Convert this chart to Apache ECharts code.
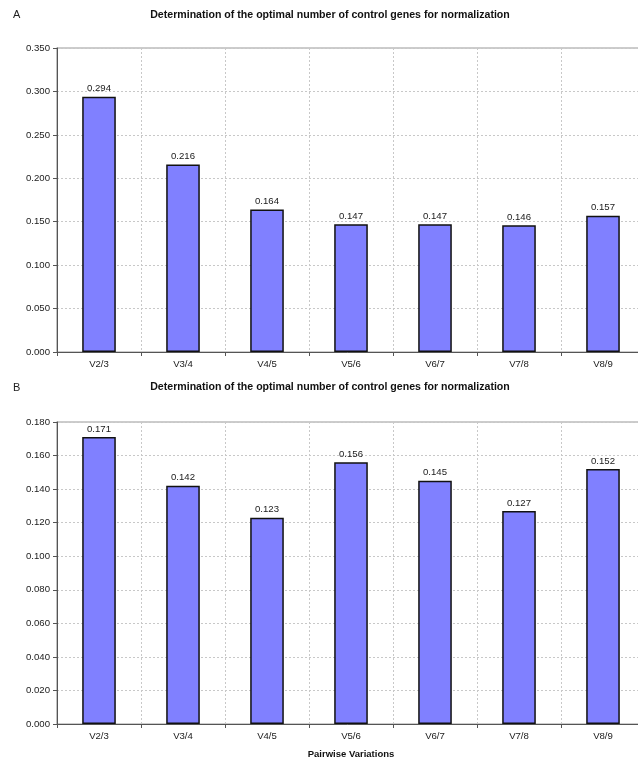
<!DOCTYPE html>
<html>
<head>
<meta charset="utf-8">
<script src="https://cdn.jsdelivr.net/npm/echarts@6/dist/echarts.min.js"></script>
<style>
  html, body { margin: 0; padding: 0; background: #fff; }
  #chart { width: 638px; height: 759px; }
</style>
</head>
<body>
<div id="chart"></div>
<script>
// Pairwise variation categories (Vn/n+1)
const categories = ['V2/3', 'V3/4', 'V4/5', 'V5/6', 'V6/7', 'V7/8', 'V8/9'];
// Panel A pairwise variation values
const valuesA = [0.294, 0.216, 0.164, 0.147, 0.147, 0.146, 0.157];
// Panel B pairwise variation values
const valuesB = [0.171, 0.142, 0.123, 0.156, 0.145, 0.127, 0.152];

const titleText = 'Determination of the optimal number of control genes for normalization';
const FONT = '"Liberation Sans", Arial, sans-serif';
const LABEL_SIZE = 9.6;

function xAxisFor(gridIndex, showName) {
  return {
    type: 'category',
    gridIndex: gridIndex,
    data: categories,
    boundaryGap: true,
    name: showName ? 'Pairwise Variations' : '',
    nameLocation: 'middle',
    nameGap: 25,
    nameTextStyle: { fontFamily: FONT, fontSize: 9.5, fontWeight: 'bold', color: '#111' },
    axisLine: { lineStyle: { color: '#555', width: 1 } },
    axisTick: { show: true, alignWithLabel: false, length: 4, lineStyle: { color: '#555' } },
    axisLabel: { fontFamily: FONT, fontSize: LABEL_SIZE, color: '#1a1a1a', margin: 7 },
    splitLine: { show: true, lineStyle: { color: '#c8c8c8', type: [2, 2] } }
  };
}

function yAxisFor(gridIndex, max, interval) {
  return {
    type: 'value',
    gridIndex: gridIndex,
    min: 0,
    max: max,
    interval: interval,
    axisLine: { show: true, lineStyle: { color: '#555', width: 1 } },
    axisTick: { show: true, length: 4, lineStyle: { color: '#555' } },
    axisLabel: { fontFamily: FONT, fontSize: LABEL_SIZE, color: '#1a1a1a', margin: 7,
                 formatter: v => v.toFixed(3) },
    splitLine: { show: true, lineStyle: { color: '#c8c8c8', type: [2, 2] } }
  };
}

function barSeries(idx, data) {
  return {
    type: 'bar',
    xAxisIndex: idx,
    yAxisIndex: idx,
    data: data,
    barWidth: '40%',
    itemStyle: { color: '#8080ff', borderColor: '#111', borderWidth: 1.5 },
    label: {
      show: true, position: 'top', distance: 3,
      fontFamily: FONT, fontSize: LABEL_SIZE, color: '#1a1a1a',
      formatter: p => p.value.toFixed(3)
    },
    animation: false
  };
}

// The plot area runs a few pixels past the right edge of the canvas
const gridCommon = {
  left: 57, width: 588, show: true,
  borderColor: '#999', borderWidth: 1.2, backgroundColor: 'transparent',
  outerBoundsMode: 'none', containLabel: false
};

const chart = echarts.init(document.getElementById('chart'), null, { renderer: 'canvas' });
chart.setOption({
  backgroundColor: '#fff',
  animation: false,
  title: [
    { text: 'A', left: 8, top: 4, textStyle: { fontFamily: FONT, fontSize: 11, fontWeight: 'normal', color: '#222' } },
    { text: titleText, left: 325, top: 5, textAlign: 'center',
      textStyle: { fontFamily: FONT, fontSize: 10.6, fontWeight: 'bold', color: '#111' } },
    { text: 'B', left: 8, top: 377, textStyle: { fontFamily: FONT, fontSize: 11, fontWeight: 'normal', color: '#222' } },
    { text: titleText, left: 325, top: 377, textAlign: 'center',
      textStyle: { fontFamily: FONT, fontSize: 10.6, fontWeight: 'bold', color: '#111' } }
  ],
  grid: [
    Object.assign({ top: 48, height: 304 }, gridCommon),
    Object.assign({ top: 422, height: 302 }, gridCommon)
  ],
  xAxis: [xAxisFor(0, false), xAxisFor(1, true)],
  yAxis: [yAxisFor(0, 0.35, 0.05), yAxisFor(1, 0.18, 0.02)],
  series: [barSeries(0, valuesA), barSeries(1, valuesB)]
});
</script>
</body>
</html>
